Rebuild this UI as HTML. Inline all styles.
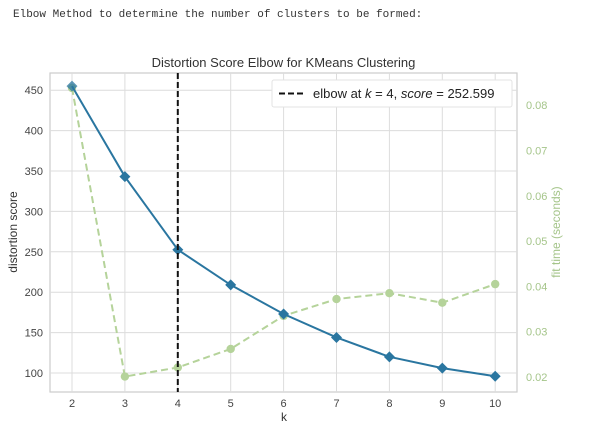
<!DOCTYPE html>
<html><head><meta charset="utf-8"><style>
body{margin:0;background:#fff;width:591px;height:436px;overflow:hidden}
#hdr{position:absolute;left:13px;top:9px;font:11px "Liberation Mono",monospace;color:#333}
svg{position:absolute;left:0;top:0}
</style></head><body>
<div id="hdr">Elbow Method to determine the number of clusters to be formed:</div>
<svg width="591" height="436" font-family="Liberation Sans, DejaVu Sans, sans-serif">
<g id="grid"></g><g id="marks"></g><g id="axes"></g>
</svg>
<script>
const ks=[2,3,4,5,6,7,8,9,10];
const distortion=[455,343,252.6,209,173,144,120,106,96];
const fitTime=[0.0838,0.0201,0.0221,0.0262,0.0335,0.0372,0.0385,0.0364,0.0405];
const yTicks=[100,150,200,250,300,350,400,450];
const y2Ticks=[0.02,0.03,0.04,0.05,0.06,0.07,0.08];
const elbowK=4, elbowScore=252.599;
const L=50,R=517,T=73,B=392;
const x=k=>72+(k-2)*52.9;
const y=v=>373-(v-100)*40.4/50;
const y2=v=>377-(v-0.02)*4530;
const NS='http://www.w3.org/2000/svg';
function mk(p,t,a,txt){const e=document.createElementNS(NS,t);for(const k in a)e.setAttribute(k,a[k]);if(txt!=null)e.textContent=txt;document.getElementById(p).appendChild(e);return e;}
let e=mk('grid','rect',{x:L,y:T,width:R-L,height:B-T,fill:'#fff',stroke:'#ccc','stroke-width':1.2});

ks.forEach(k=>{mk('grid','line',{x1:x(k),x2:x(k),y1:T,y2:B,stroke:'#dcdcdc'});
 e=mk('axes','text',{x:x(k),y:407,'text-anchor':'middle','font-size':11,fill:'#444'},k);
 });
yTicks.forEach(v=>{mk('grid','line',{x1:L,x2:R,y1:y(v),y2:y(v),stroke:'#dcdcdc'});
 e=mk('axes','text',{x:43,y:y(v)+4,'text-anchor':'end','font-size':11,fill:'#444'},v);
 });
y2Ticks.forEach(v=>{e=mk('axes','text',{x:526,y:y2(v)+4,'font-size':11,fill:'#a5c58a'},v.toFixed(2));
 });
// fit time line
e=mk('marks','polyline',{points:ks.map((k,i)=>x(k)+','+y2(fitTime[i])).join(' '),fill:'none',stroke:'#b5d39a','stroke-width':2,'stroke-dasharray':'7,4'});

ks.forEach((k,i)=>{e=mk('marks','circle',{cx:x(k),cy:y2(fitTime[i]),r:4.2,fill:'#b5d39a'});
 });
// distortion
e=mk('marks','polyline',{points:ks.map((k,i)=>x(k)+','+y(distortion[i])).join(' '),fill:'none',stroke:'#2a76a0','stroke-width':2});

ks.forEach((k,i)=>{const cx=x(k),cy=y(distortion[i]);
 e=mk('marks','polygon',{points:`${cx},${cy-5.5} ${cx+5.5},${cy} ${cx},${cy+5.5} ${cx-5.5},${cy}`,fill:'#2a76a0',opacity:i==0?0.75:1});
 });
e=mk('marks','line',{x1:x(elbowK),x2:x(elbowK),y1:T,y2:B,stroke:'#111','stroke-width':2,'stroke-dasharray':'6,3'});

// legend
e=mk('axes','rect',{x:272,y:80,width:240,height:27,fill:'#fff',stroke:'#e3e3e3',rx:2});

mk('axes','line',{x1:279,x2:305,y1:93.5,y2:93.5,stroke:'#111','stroke-width':2,'stroke-dasharray':'6,3'});
e=mk('axes','text',{x:313,y:98,'font-size':13,fill:'#222'});
e.innerHTML='elbow at <tspan font-style="italic">k</tspan> = '+elbowK+', <tspan font-style="italic">score</tspan> = '+elbowScore;

e=mk('axes','text',{x:(L+R)/2,y:67,'text-anchor':'middle','font-size':13,fill:'#333'},'Distortion Score Elbow for KMeans Clustering');

e=mk('axes','text',{x:284,y:421,'text-anchor':'middle','font-size':12,fill:'#333'},'k');

e=mk('axes','text',{x:17,y:232,'text-anchor':'middle','font-size':12,fill:'#333',transform:'rotate(-90 17 232)'},'distortion score');

e=mk('axes','text',{x:560,y:232,'text-anchor':'middle','font-size':12,fill:'#a5c58a',transform:'rotate(-90 560 232)'},'fit time (seconds)');

</script>
</body></html>
